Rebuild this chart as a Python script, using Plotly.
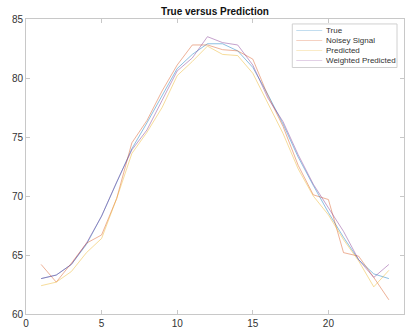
import plotly.graph_objects as go

# sample index
x = list(range(1, 25))

true_vals = [63.0, 63.3, 64.2, 65.9, 68.3, 71.1, 74.0, 76.2, 78.5, 80.8, 82.0, 82.9,
             82.9, 82.3, 80.9, 78.6, 76.1, 73.3, 70.9, 68.6, 66.5, 64.6, 63.4, 63.0]
noisy_vals = [64.2, 62.7, 64.3, 66.0, 66.7, 69.8, 74.5, 76.4, 78.9, 81.1, 82.8, 82.8,
              82.4, 82.3, 81.6, 78.5, 75.9, 72.6, 70.1, 69.7, 65.2, 64.9, 63.1, 61.2]
pred_vals = [62.4, 62.7, 63.6, 65.2, 66.4, 69.8, 73.6, 75.4, 77.5, 80.2, 81.4, 82.7,
             82.0, 81.9, 80.4, 77.8, 75.3, 72.3, 70.0, 68.4, 66.3, 64.5, 62.3, 63.7]
wpred_vals = [63.0, 63.3, 64.2, 66.0, 68.3, 71.2, 73.9, 75.6, 78.1, 80.6, 81.7, 83.5,
              83.0, 82.8, 81.1, 78.3, 76.3, 73.5, 71.0, 69.0, 67.0, 64.6, 63.1, 64.2]

names = ["True", "Noisey Signal", "Predicted", "Weighted Predicted"]
series = [true_vals, noisy_vals, pred_vals, wpred_vals]
colors = ["#0072BD", "#D95319", "#EDB120", "#7E2F8E"]

x_ticks = [0, 5, 10, 15, 20, 25]
y_ticks = [60, 65, 70, 75, 80, 85]

fig = go.Figure()
for name, vals, col in zip(names, series, colors):
    fig.add_trace(go.Scatter(x=x, y=vals, mode="lines", name=name,
                             line=dict(color=col, width=0.6), opacity=0.75,
                             showlegend=False))

axis_style = dict(showline=True, linecolor="#c8c8c8", linewidth=1, mirror="ticks",
                  ticks="inside", ticklen=4, tickcolor="#c8c8c8", showgrid=False,
                  zeroline=False, tickfont=dict(family="Liberation Sans, Arial", size=10,
                                                color="#333333"))

fig.update_xaxes(range=[0, 25], tickvals=x_ticks, **axis_style)
fig.update_yaxes(range=[60, 85], tickvals=y_ticks, **axis_style)

# legend box drawn in paper coordinates
L = 26
W = 409 - 4 - L
T = 19
H = 333 - 16 - T

def px(xp):
    return (xp - L) / W

def py(yp):
    return 1 - (yp - T) / H

shapes = [dict(type="rect", xref="paper", yref="paper",
               x0=px(293), x1=px(398), y0=py(68), y1=py(24),
               line=dict(color="#d0d0d0", width=1), fillcolor="white", layer="above")]
annotations = []
for i, (name, col) in enumerate(zip(names, colors)):
    yy = 30.5 + i * 10.2
    shapes.append(dict(type="line", xref="paper", yref="paper",
                       x0=px(297), x1=px(323), y0=py(yy), y1=py(yy),
                       line=dict(color=col, width=0.6), opacity=0.45, layer="above"))
    annotations.append(dict(xref="paper", yref="paper", x=px(325), y=py(yy),
                            xanchor="left", yanchor="middle", text=name, showarrow=False,
                            font=dict(family="Liberation Sans, Arial", size=8,
                                      color="#333333")))

fig.update_layout(
    width=409, height=333,
    margin=dict(l=L, r=4, t=T, b=16),
    paper_bgcolor="white", plot_bgcolor="white",
    title=dict(text="<b>True versus Prediction</b>", x=0.5, xref="paper",
               y=1 - 11 / 333, yanchor="middle",
               font=dict(family="Liberation Sans, Arial", size=10, color="#111111")),
    shapes=shapes, annotations=annotations,
)

fig.write_html("out.html")
